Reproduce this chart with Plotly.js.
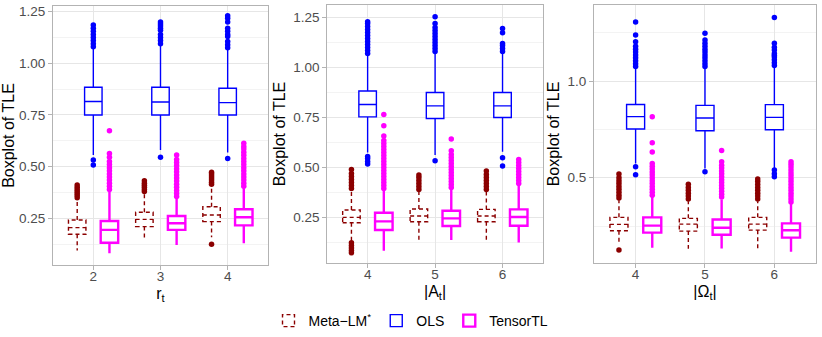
<!DOCTYPE html>
<html>
<head>
<meta charset="utf-8">
<script src="https://cdn.plot.ly/plotly-3.0.1.min.js"></script>
<style>
  body { margin: 0; background: #fff; }
  #plot { width: 822px; height: 337px; }
  /* Meta-LM* boxes are drawn dashed, as in the original */
  path.box[style*="139, 0, 0"],
  .legendpoints path[style*="139, 0, 0"] { stroke-dasharray: 4px 3px; }
</style>
</head>
<body>
<div id="plot"></div>
<script>
// Panel labels (x categories)
let catsR = ['2', '3', '4'];
let catsA = ['4', '5', '6'];
let catsO = ['4', '5', '6'];

// Panel 1: r_t
let metaR = {q1: [0.173, 0.210, 0.234], med: [0.205, 0.245, 0.266], q3: [0.242, 0.279, 0.306], lo: [0.094, 0.148, 0.158], hi: [0.339, 0.371, 0.406]};
let metaROut = [[0.35, 0.36, 0.37, 0.38, 0.39, 0.40, 0.411], [0.38, 0.39, 0.40, 0.41, 0.42, 0.432], [0.124, 0.415, 0.425, 0.435, 0.445, 0.455, 0.465, 0.473]];
let olsR = {q1: [0.750, 0.750, 0.750], med: [0.815, 0.813, 0.810], q3: [0.884, 0.884, 0.879], lo: [0.556, 0.581, 0.568], hi: [1.073, 1.089, 1.065]};
let olsROut = [[0.508, 0.532, 1.08, 1.095, 1.11, 1.125, 1.14, 1.155, 1.17, 1.185], [0.545, 1.095, 1.11, 1.125, 1.14, 1.16, 1.17, 1.18, 1.19, 1.20], [0.54, 1.075, 1.09, 1.105, 1.13, 1.14, 1.155, 1.17, 1.20, 1.218, 1.23]];
let tenR = {q1: [0.132, 0.194, 0.216], med: [0.194, 0.226, 0.255], q3: [0.237, 0.261, 0.294], lo: [0.081, 0.121, 0.129], hi: [0.379, 0.347, 0.395]};
let tenROut = [[0.39, 0.405, 0.42, 0.435, 0.45, 0.465, 0.48, 0.495, 0.51, 0.525, 0.545, 0.564, 0.674], [0.355, 0.37, 0.385, 0.40, 0.415, 0.43, 0.445, 0.46, 0.475, 0.49, 0.505, 0.52, 0.535, 0.556], [0.405, 0.42, 0.435, 0.45, 0.465, 0.48, 0.495, 0.51, 0.525, 0.54, 0.555, 0.57, 0.585, 0.597, 0.613]];

// Panel 2: |A_t|
let metaA = {q1: [0.223, 0.228, 0.228], med: [0.250, 0.257, 0.257], q3: [0.287, 0.292, 0.290], lo: [0.128, 0.137, 0.137], hi: [0.387, 0.383, 0.378]};
let metaAOut = [[0.073, 0.085, 0.097, 0.11, 0.123, 0.395, 0.41, 0.425, 0.44, 0.455, 0.47, 0.49], [0.39, 0.405, 0.42, 0.435, 0.45, 0.462], [0.39, 0.405, 0.42, 0.435, 0.45, 0.465, 0.482]];
let olsA = {q1: [0.753, 0.745, 0.750], med: [0.815, 0.808, 0.808], q3: [0.882, 0.875, 0.875], lo: [0.575, 0.562, 0.578], hi: [1.062, 1.070, 1.070]};
let olsAOut = [[0.517, 0.53, 0.545, 0.555, 1.07, 1.085, 1.10, 1.115, 1.13, 1.145, 1.16, 1.175, 1.19, 1.205, 1.22, 1.228], [0.533, 1.08, 1.095, 1.11, 1.125, 1.14, 1.155, 1.17, 1.185, 1.20, 1.22, 1.253], [0.507, 0.548, 1.08, 1.095, 1.11, 1.12, 1.173, 1.195]];
let tenA = {q1: [0.187, 0.207, 0.208], med: [0.230, 0.245, 0.252], q3: [0.273, 0.283, 0.290], lo: [0.083, 0.137, 0.125], hi: [0.387, 0.390, 0.412]};
let tenAOut = [[0.395, 0.41, 0.425, 0.44, 0.455, 0.47, 0.485, 0.50, 0.515, 0.53, 0.545, 0.56, 0.575, 0.59, 0.605, 0.62, 0.635, 0.657, 0.708, 0.765], [0.40, 0.415, 0.43, 0.445, 0.46, 0.475, 0.49, 0.505, 0.52, 0.535, 0.55, 0.565, 0.583, 0.642], [0.42, 0.435, 0.45, 0.465, 0.48, 0.495, 0.51, 0.525, 0.54]];

// Panel 3: |Omega_t|
let metaO = {q1: [0.226, 0.224, 0.229], med: [0.259, 0.260, 0.260], q3: [0.295, 0.290, 0.295], lo: [0.164, 0.133, 0.133], hi: [0.384, 0.379, 0.379]};
let metaOOut = [[0.126, 0.395, 0.41, 0.425, 0.44, 0.455, 0.47, 0.485, 0.50, 0.519], [0.39, 0.405, 0.42, 0.435, 0.45, 0.466], [0.39, 0.405, 0.42, 0.435, 0.45, 0.465, 0.48, 0.493]];
let olsO = {q1: [0.752, 0.743, 0.748], med: [0.816, 0.809, 0.812], q3: [0.879, 0.874, 0.878], lo: [0.574, 0.548, 0.548], hi: [1.066, 1.066, 1.069]};
let olsOOut = [[0.516, 0.557, 1.075, 1.09, 1.105, 1.12, 1.135, 1.15, 1.165, 1.18, 1.203, 1.238, 1.305], [0.531, 1.075, 1.09, 1.105, 1.12, 1.135, 1.15, 1.165, 1.18, 1.195, 1.212, 1.247], [0.505, 0.52, 0.54, 1.08, 1.095, 1.11, 1.125, 1.134, 1.143, 1.16, 1.175, 1.195, 1.329]];
let tenO = {q1: [0.216, 0.205, 0.190], med: [0.252, 0.241, 0.228], q3: [0.295, 0.284, 0.264], lo: [0.138, 0.134, 0.117], hi: [0.402, 0.388, 0.367]};
let tenOOut = [[0.41, 0.425, 0.44, 0.455, 0.47, 0.485, 0.50, 0.515, 0.53, 0.545, 0.56, 0.574, 0.633, 0.681, 0.816], [0.40, 0.415, 0.43, 0.445, 0.46, 0.475, 0.49, 0.505, 0.52, 0.535, 0.55, 0.565, 0.583, 0.641], [0.375, 0.39, 0.405, 0.42, 0.435, 0.45, 0.465, 0.48, 0.495, 0.51, 0.525, 0.54, 0.555, 0.57, 0.583]];

// Method styles (dodge offset, colour, line width)
let methods = [
    {name: 'Meta\u2212LM<sup>*</sup>', color: '#8B0000', width: 1.4, offset: -0.24},
    {name: 'OLS', color: '#0000FF', width: 1.4, offset: 0},
    {name: 'TensorTL', color: '#FF00FF', width: 2.4, offset: 0.24}
];

let panels = [
    {cats: catsR, stats: [metaR, olsR, tenR], outs: [metaROut, olsROut, tenROut]},
    {cats: catsA, stats: [metaA, olsA, tenA], outs: [metaAOut, olsAOut, tenAOut]},
    {cats: catsO, stats: [metaO, olsO, tenO], outs: [metaOOut, olsOOut, tenOOut]}
];

let data = [];
let pointTraces = [];
panels.forEach(function(p, pi) {
    let xa = 'x' + (pi === 0 ? '' : pi + 1);
    let ya = 'y' + (pi === 0 ? '' : pi + 1);
    methods.forEach(function(m, mi) {
        let s = p.stats[mi];
        let pos = p.cats.map((c, i) => i + 1 + m.offset);
        data.push({
            type: 'box',
            name: m.name,
            legendgroup: m.name,
            showlegend: pi === 0,
            x: pos,
            q1: s.q1, median: s.med, q3: s.q3,
            lowerfence: s.lo, upperfence: s.hi,
            width: 0.26,
            whiskerwidth: 0,
            boxpoints: false,
            line: {color: m.color, width: m.width},
            fillcolor: 'rgba(255,255,255,1)',
            hoverinfo: 'skip',
            xaxis: xa, yaxis: ya
        });

        // Outliers as plain points at the same dodged position
        let ox = [], oy = [];
        p.outs[mi].forEach(function(vals, i) {
            vals.forEach(function(v) { ox.push(pos[i]); oy.push(v); });
        });
        pointTraces.push({
            type: 'scatter', mode: 'markers',
            x: ox, y: oy,
            marker: {color: m.color, size: 5.5},
            showlegend: false, hoverinfo: 'skip',
            xaxis: xa, yaxis: ya
        });
    });
});
data = data.concat(pointTraces);

let font = 'Liberation Sans, Arial, sans-serif';
function xAxis(domain, cats, title) {
    return {
        domain: domain, range: [0.4, 3.6],
        tickvals: [1, 2, 3], ticktext: cats,
        showgrid: true, gridcolor: '#e6e6e6', gridwidth: 1,
        zeroline: false,
        showline: true, mirror: true, linecolor: '#b3b3b3', linewidth: 1,
        ticks: 'outside', ticklen: 4, tickcolor: '#b3b3b3',
        ticklabelstandoff: -5,
        tickfont: {size: 13.5, color: '#4d4d4d', family: font},
        title: {text: title, font: {size: 16, color: '#000', family: font}, standoff: 4}
    };
}
function yAxis(domain, range, dtick, fmt, anchor) {
    return {
        domain: domain, range: range, anchor: anchor,
        tick0: 0, dtick: dtick, tickformat: fmt,
        showgrid: true, gridcolor: '#e6e6e6', gridwidth: 1,
        minor: {dtick: dtick / 2, tick0: 0, showgrid: true, gridcolor: '#f3f3f3', gridwidth: 1},
        zeroline: false,
        showline: true, mirror: true, linecolor: '#b3b3b3', linewidth: 1,
        ticks: 'outside', ticklen: 4, tickcolor: '#b3b3b3',
        tickfont: {size: 13.5, color: '#4d4d4d', family: font},
        title: {text: 'Boxplot of TLE', font: {size: 16, color: '#000', family: font}, standoff: 3}
    };
}

let layout = {
    width: 822, height: 337,
    margin: {l: 0, r: 0, t: 0, b: 0},
    paper_bgcolor: '#fff', plot_bgcolor: '#fff',
    font: {family: font},
    showlegend: true,
    legend: {
        orientation: 'h', x: 0.5, xanchor: 'center', y: 0.047, yanchor: 'middle',
        font: {size: 14, color: '#000', family: font},
        itemwidth: 30, traceorder: 'normal'
    },
    xaxis: xAxis([0.0645, 0.326], catsR, 'r<sub>t</sub>'),
    xaxis2: xAxis([0.398, 0.6606], catsA, '|A<sub>t</sub>|'),
    xaxis3: xAxis([0.7226, 0.9927], catsO, '|\u03A9<sub>t</sub>|'),
    yaxis: yAxis([0.2136, 0.982], [0.024, 1.277], 0.25, '.2f', 'x'),
    yaxis2: yAxis([0.2196, 0.985], [0.022, 1.312], 0.25, '.2f', 'x2'),
    yaxis3: yAxis([0.2196, 0.985], [0.059, 1.393], 0.5, '.1f', 'x3')
};
layout.xaxis.anchor = 'y';
layout.xaxis2.anchor = 'y2';
layout.xaxis3.anchor = 'y3';

Plotly.newPlot('plot', data, layout, {staticPlot: true});
</script>
</body>
</html>
